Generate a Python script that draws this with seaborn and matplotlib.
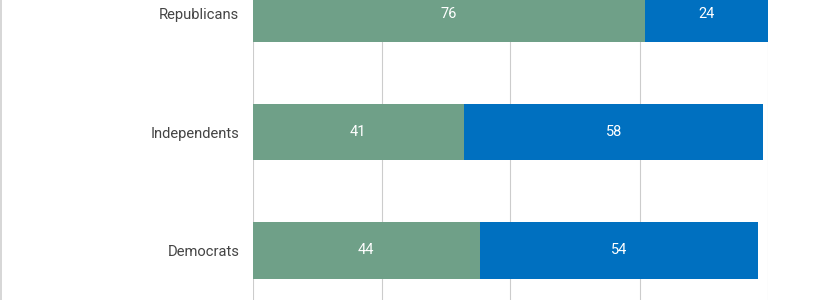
import matplotlib
matplotlib.use("Agg")
import matplotlib.pyplot as plt
import seaborn as sns
import pandas as pd
from matplotlib.lines import Line2D

categories = ["Republicans", "Independents", "Democrats"]
green_vals = [76, 41, 44]
blue_vals = [24, 58, 54]

sns.set_theme(style="white")
plt.rcParams['font.family'] = ['Roboto', 'DejaVu Sans']

df = pd.DataFrame({"cat": categories, "green": green_vals, "blue": blue_vals})
df["total"] = df["green"] + df["blue"]

fig = plt.figure(figsize=(8.33, 3.0), dpi=100)
ax = fig.add_axes([252.5 / 833, 0, (768.5 - 252.5) / 833, 1])

GREEN = "#6fa088"
BLUE = "#0070c0"

sns.barplot(data=df, x="total", y="cat", orient="h", color=BLUE, width=0.48,
            saturation=1, ax=ax, zorder=2, linewidth=0, edgecolor="none")
sns.barplot(data=df, x="green", y="cat", orient="h", color=GREEN, width=0.48,
            saturation=1, ax=ax, zorder=3, linewidth=0, edgecolor="none")

for i, (g, b) in enumerate(zip(green_vals, blue_vals)):
    ax.text(g / 2, i, str(g), ha="center", va="center", color="white",
            fontsize=10.5, zorder=5)
    ax.text(g + b / 2, i, str(b), ha="center", va="center", color="white",
            fontsize=10.5, zorder=5)

ax.set_xlim(0, 100)
ax.set_ylim(2.419, -0.115)
ax.set_xticks([0, 25, 50, 75, 100])
ax.xaxis.grid(True, color="#cccccc", linewidth=0.8, zorder=0)
ax.set_axisbelow(True)
ax.tick_params(axis="x", length=0, labelbottom=False)
ax.tick_params(axis="y", length=0, pad=9.5, labelsize=10.6, labelcolor="#444444")
ax.set_xlabel("")
ax.set_ylabel("")
for s in ax.spines.values():
    s.set_visible(False)

fig.add_artist(Line2D([0.6 / 833, 0.6 / 833], [0, 1], color="#d0d0d0", linewidth=1.2,
                      transform=fig.transFigure))

fig.savefig("out.png", dpi=100)
